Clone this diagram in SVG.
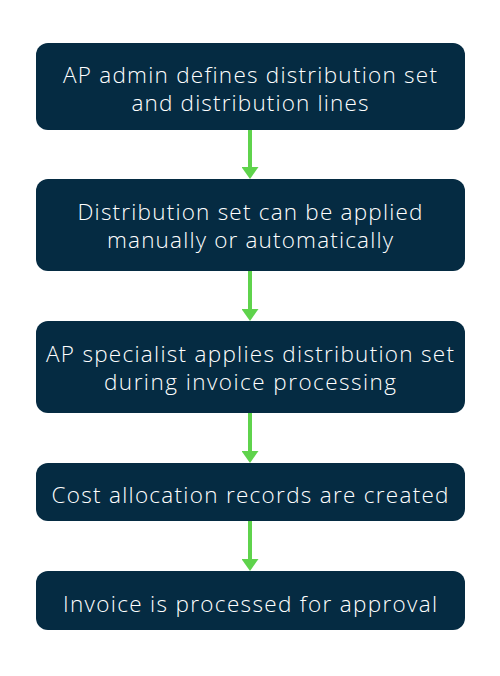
<svg xmlns="http://www.w3.org/2000/svg" width="500" height="676" viewBox="0 0 500 676">
  <style>
    .box { fill: #052b42; }
    .lbl { fill: #ffffff; font-family: "Open Sans", Lato, "Liberation Sans", sans-serif; font-size: 22.5px; font-weight: 300; text-anchor: middle; font-variant-ligatures: none; }
    .conn { stroke: #5fd34c; stroke-width: 4; fill: none; marker-end: url(#arrow); }
  </style>
  <defs>
    <marker id="arrow" viewBox="0 0 12 17" refX="4" refY="8.5" markerWidth="12" markerHeight="17" markerUnits="userSpaceOnUse" orient="auto">
      <path d="M0,0 L12,8.5 L0,17 Z" fill="#5fd34c"/>
    </marker>
  </defs>
  <rect width="500" height="676" fill="#ffffff"/>
  <g id="connectors">
    <path class="conn" d="M250,130 L250,171"/>
    <path class="conn" d="M250,271 L250,313"/>
    <path class="conn" d="M250,413 L250,455"/>
    <path class="conn" d="M250,521 L250,563"/>
  </g>
  <g id="node1">
    <rect class="box" x="36" y="43" width="429" height="87" rx="12"/>
    <text class="lbl" x="250" y="83" textLength="374" lengthAdjust="spacing">AP admin defines distribution set</text>
    <text class="lbl" x="250" y="111" textLength="237" lengthAdjust="spacing">and distribution lines</text>
  </g>
  <g id="node2">
    <rect class="box" x="36" y="179" width="429" height="92" rx="12"/>
    <text class="lbl" x="250" y="220" textLength="345" lengthAdjust="spacing">Distribution set can be applied</text>
    <text class="lbl" x="250" y="248" textLength="286" lengthAdjust="spacing">manually or automatically</text>
  </g>
  <g id="node3">
    <rect class="box" x="36" y="321" width="429" height="92" rx="12"/>
    <text class="lbl" x="250" y="362" textLength="408" lengthAdjust="spacing">AP specialist applies distribution set</text>
    <text class="lbl" x="250" y="390" textLength="292" lengthAdjust="spacing">during invoice processing</text>
  </g>
  <g id="node4">
    <rect class="box" x="36" y="463" width="429" height="58" rx="12"/>
    <text class="lbl" x="250" y="503" textLength="397" lengthAdjust="spacing">Cost allocation records are created</text>
  </g>
  <g id="node5">
    <rect class="box" x="36" y="571" width="429" height="59" rx="12"/>
    <text class="lbl" x="250" y="612" textLength="374" lengthAdjust="spacing">Invoice is processed for approval</text>
  </g>
</svg>
